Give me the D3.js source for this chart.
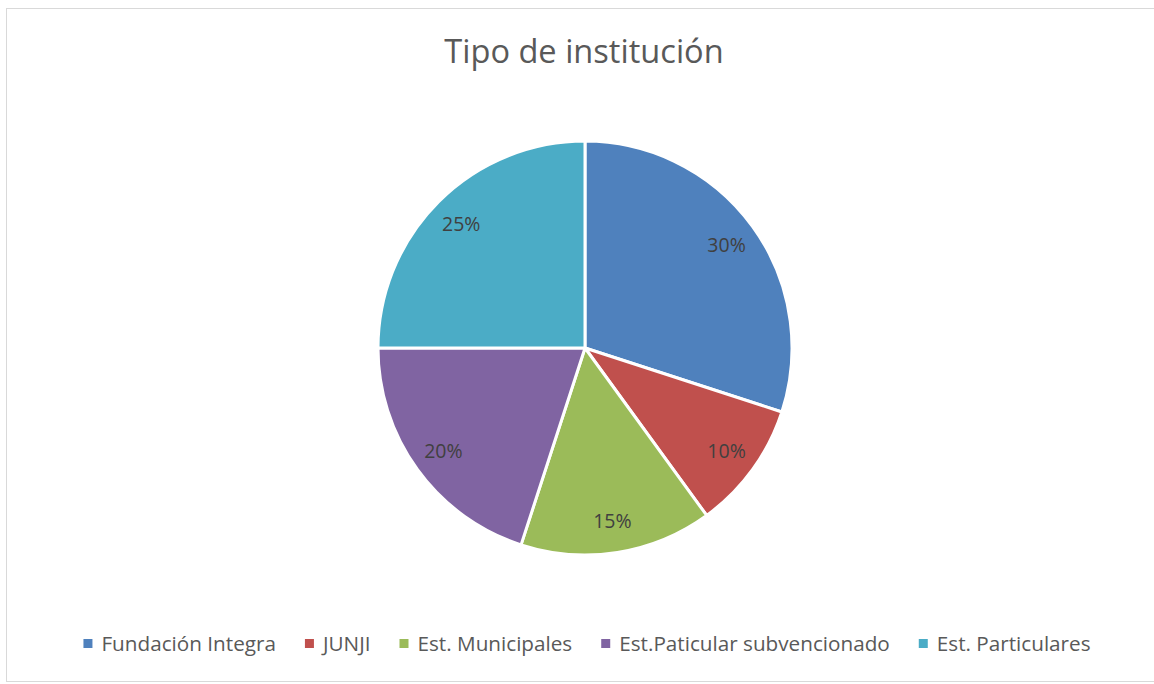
<!DOCTYPE html>
<html><head><meta charset="utf-8">
<script src="https://cdn.jsdelivr.net/npm/d3@7"></script>
<style>body{margin:0;background:#fff;}svg{display:block;}</style>
</head><body>
<svg id="c" width="1154" height="684"></svg>
<script>
const categories = ["Fundación Integra", "JUNJI", "Est. Municipales", "Est.Paticular subvencionado", "Est. Particulares"];
const values = [30, 10, 15, 20, 25];
const labels = ["30%", "10%", "15%", "20%", "25%"];
const colors = ["#4f81bd", "#c0504d", "#9bbb59", "#8064a2", "#4bacc6"];
const title = "Tipo de institución";

const svg = d3.select("#c");
const font = "'Open Sans', sans-serif";
svg.append("rect").attr("x", 6.5).attr("y", 8.5).attr("width", 1150).attr("height", 673)
  .attr("fill", "#fff").attr("stroke", "#d9d9d9").attr("stroke-width", 1);

svg.append("text").attr("x", 584).attr("y", 63).attr("text-anchor", "middle")
  .attr("font-family", font).attr("font-size", 32.6).attr("fill", "#595959").text(title);

const cx = 585, cy = 348, R = 207;
const data = categories.map((c, i) => ({cat: c, value: values[i], label: labels[i], color: colors[i]}));
const pie = d3.pie().value(d => d.value).sort(null);
const arc = d3.arc().innerRadius(0).outerRadius(R);
const labelArc = d3.arc().innerRadius(175).outerRadius(175);
const g = svg.append("g").attr("transform", `translate(${cx},${cy})`);
const arcs = pie(data);
g.selectAll("path").data(arcs).join("path").attr("d", arc)
  .attr("fill", d => d.data.color).attr("stroke", "#fff").attr("stroke-width", 3).attr("stroke-linejoin", "round");
g.selectAll("text").data(arcs).join("text")
  .attr("transform", d => `translate(${labelArc.centroid(d)})`)
  .attr("text-anchor", "middle").attr("dy", "0.35em")
  .attr("font-family", font).attr("font-size", 19.5).attr("fill", "#404040")
  .text(d => d.data.label);

// legend
const lg = svg.append("g");
const items = lg.selectAll("g").data(data).join("g");
items.append("rect").attr("width", 9).attr("height", 9).attr("y", -12).attr("fill", d => d.color);
items.append("text").attr("x", 18).attr("font-family", font).attr("font-size", 20.7).attr("fill", "#595959").text(d => d.cat);
let widths = [];
items.each(function(){ widths.push(18 + d3.select(this).select("text").node().getComputedTextLength()); });
const gap = 29;
const total = d3.sum(widths) + gap * (widths.length - 1);
let x = 587 - total / 2;
items.each(function(d, i){ d3.select(this).attr("transform", `translate(${x},651)`); x += widths[i] + gap; });
</script>
</body></html>
